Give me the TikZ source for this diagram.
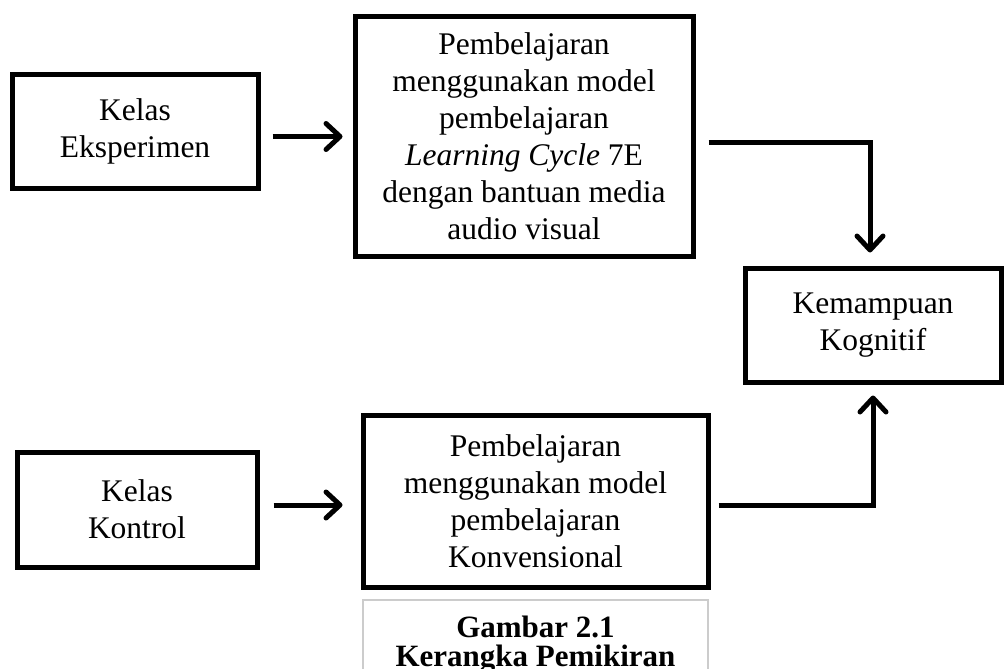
\documentclass[tikz,border=0pt]{standalone}
\usepackage{fontspec}
\setmainfont{Liberation Serif}
\usetikzlibrary{arrows.meta}
\begin{document}
\begin{tikzpicture}[x=1pt,y=-1pt,
  box/.style={draw=black,line width=5pt,rectangle,inner sep=0pt,align=center,
    font=\fontsize{31.5}{37}\selectfont},
  conn/.style={line width=5pt,-{Straight Barb[length=14pt,width=26pt,line width=5pt,round]}},
  capt/.style={font=\fontsize{31}{29}\selectfont\bfseries,anchor=north,inner sep=0pt,align=center}]
\useasboundingbox (0,0) rectangle (1005,669);
\clip (0,0) rectangle (1005,669);
\node[box,minimum width=246pt,minimum height=113pt] (b1) at (135,131.5) {Kelas\\Eksperimen};
\node[box,minimum width=338pt,minimum height=239pt] (b2) at (524,136.5) {Pembelajaran\\menggunakan model\\pembelajaran\\\textit{Learning Cycle} 7E\\dengan bantuan media\\audio visual};
\node[box,minimum width=256pt,minimum height=114pt] (b3) at (873,325) {Kemampuan\\Kognitif};
\node[box,minimum width=240pt,minimum height=115pt] (b4) at (137,509.5) {Kelas\\Kontrol};
\node[box,minimum width=345pt,minimum height=172pt] (b5) at (535.5,501) {Pembelajaran\\menggunakan model\\pembelajaran\\Konvensional};
\coordinate (c1) at (870,142);
\coordinate (c2) at (873,505);
\draw[conn,shorten <=12pt,shorten >=10pt] (b1.east |- b2.west) -- (b2.west);
\draw[conn,shorten <=14pt,shorten >=18pt] (b4.east |- c2) -- (b5.west |- c2);
\draw[conn,shorten <=13pt,shorten >=13pt,line join=miter] (b2.east |- c1) -- (c1) -- (c1 |- b3.north);
\draw[conn,shorten <=8pt,shorten >=11pt,line join=miter] (b5.east |- c2) -- (c2) -- (c2 |- b3.south);
\draw[draw=black!20,line width=1.5pt] (363,680) -- (363,600) -- (708,600) -- (708,680);
\node[capt] (g) at (535.5,616) {Gambar 2.1\\Kerangka Pemikiran};
\end{tikzpicture}
\end{document}
